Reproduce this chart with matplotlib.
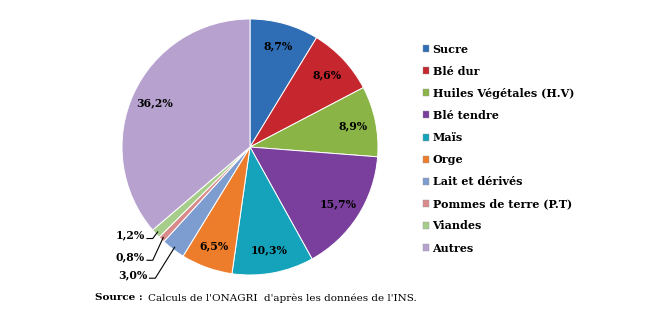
import numpy as np
import matplotlib
matplotlib.use("Agg")
import matplotlib.pyplot as plt
from matplotlib.patches import Patch

# === Donnees ===
produits = ["Sucre", "Blé dur", "Huiles Végétales (H.V)", "Blé tendre", "Maïs",
            "Orge", "Lait et dérivés", "Pommes de terre (P.T)", "Viandes", "Autres"]
parts = [8.7, 8.6, 8.9, 15.7, 10.3, 6.5, 3.0, 0.8, 1.2, 36.2]
etiquettes = ["8,7%", "8,6%", "8,9%", "15,7%", "10,3%", "6,5%", "3,0%", "0,8%", "1,2%", "36,2%"]
couleurs = ["#2F6EB5", "#C6262E", "#8AB445", "#7A3E9D", "#14A3BA",
            "#EE7D2B", "#7D9DD1", "#D98A8A", "#A7CD8B", "#B7A2CF"]
petites = ["Lait et dérivés", "Pommes de terre (P.T)", "Viandes"]

W, H = 655, 330
FONT = "DejaVu Serif"

fig = plt.figure(figsize=(W / 100, H / 100), dpi=100)
cx, cy, r = 250, 147, 128
ax = fig.add_axes([(cx - r) / W, (H - cy - r) / H, 2 * r / W, 2 * r / H])

wedges, _ = ax.pie(parts, colors=couleurs, startangle=90, counterclock=False,
                   wedgeprops=dict(edgecolor="white", linewidth=0.7))
ax.set_xlim(-1, 1)
ax.set_ylim(-1, 1)
ax.set_aspect("equal")
ax.axis("off")

# position des etiquettes des petites parts (bord droit du texte, en unites du rayon)
pos_petites = {"Viandes": (-0.82, -0.69), "Pommes de terre (P.T)": (-0.82, -0.86),
               "Lait et dérivés": (-0.80, -1.0)}

for w, nom, txt in zip(wedges, produits, etiquettes):
    ang = np.deg2rad((w.theta1 + w.theta2) / 2)
    if nom in petites:
        tx, ty = pos_petites[nom]
        ex, ey = np.cos(ang) * 0.98, np.sin(ang) * 0.98
        ly = ty - 0.025
        ax.plot([tx + 0.015, tx + 0.06, ex], [ly, ly, ey],
                color="black", lw=0.8, clip_on=False)
        ax.text(tx, ty, txt, ha="right", va="center", fontsize=7.8,
                fontweight="bold", family=FONT, clip_on=False)
    else:
        ax.text(np.cos(ang) * 0.82, np.sin(ang) * 0.82, txt, ha="center", va="center",
                fontsize=7.8, fontweight="bold", family=FONT)

# Legende
poignees = [Patch(facecolor=c, edgecolor="#999999", linewidth=0.3) for c in couleurs]
fig.legend(poignees, produits, loc="upper left", bbox_to_anchor=(417 / W, 1 - 38 / H),
           frameon=False, handlelength=0.6, handleheight=0.6, handletextpad=0.3,
           labelspacing=1.0, borderpad=0,
           prop=dict(family=FONT, weight="bold", size=8))

# Source
fig.text(95 / W, 1 - 298 / H, "Source :", fontsize=7.5, fontweight="bold",
         family=FONT, va="center", ha="left")
fig.text(148 / W, 1 - 298 / H, "Calculs de l'ONAGRI  d'après les données de l'INS.",
         fontsize=7.5, family=FONT, va="center", ha="left")

fig.savefig("out.png", dpi=100, facecolor="white")
